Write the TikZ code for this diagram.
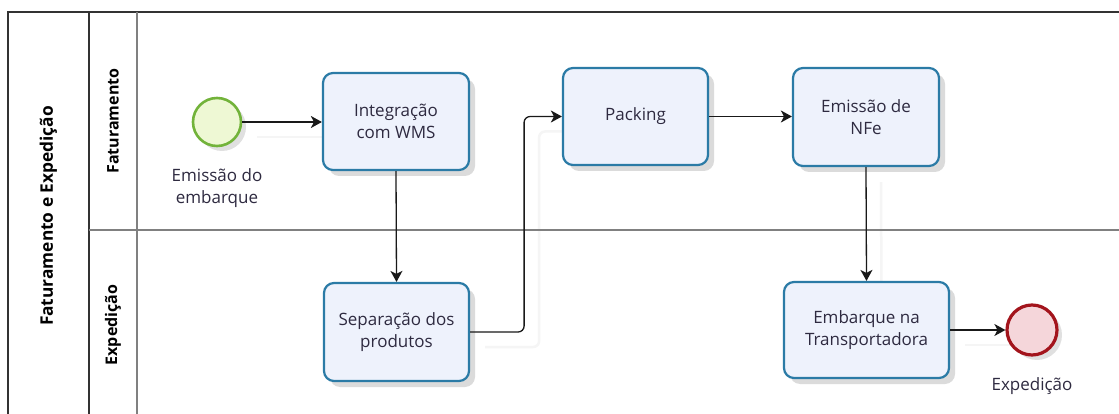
\documentclass[tikz,border=0pt]{standalone}
\usepackage{fontspec}
\setmainfont{Open Sans}
\usetikzlibrary{arrows.meta,shadows,calc}
\definecolor{taskline}{HTML}{2B7BA6}
\definecolor{taskfill}{HTML}{EEF2FC}
\definecolor{startline}{HTML}{72B33A}
\definecolor{startfill}{HTML}{EEF8D4}
\definecolor{endline}{HTML}{A3141C}
\definecolor{endfill}{HTML}{F5D6DA}
\definecolor{txt}{HTML}{2E2A40}
\pgfdeclarelayer{bg}
\pgfdeclarelayer{shadowlayer}
\pgfsetlayers{bg,shadowlayer,main}
\tikzset{
  task/.style={rectangle, rounded corners=10pt, draw=taskline, line width=2.2pt,
    fill=taskfill, minimum width=146pt, minimum height=97pt, align=center,
    font=\fontsize{17}{22}\selectfont, text=txt,
    drop shadow={shadow xshift=6pt, shadow yshift=-6pt, opacity=0.14, fill=black}},
  startev/.style={circle, draw=startline, line width=2.6pt, fill=startfill,
    minimum size=48pt, inner sep=0pt,
    drop shadow={shadow xshift=5pt, shadow yshift=-5pt, opacity=0.12, fill=black}},
  endev/.style={circle, draw=endline, line width=3.2pt, fill=endfill,
    minimum size=50pt, inner sep=0pt,
    drop shadow={shadow xshift=5pt, shadow yshift=-5pt, opacity=0.12, fill=black}},
  evlabel/.style={align=center, font=\fontsize{17}{22}\selectfont, text=txt},
  flow/.style={draw=black!90, line width=1.3pt, -{Stealth[length=11pt,width=12pt,inset=3pt]}},
  flowshadow/.style={draw=black!4, line width=2.5pt},
  hdr/.style={font=\bfseries\fontsize{16}{18}\selectfont, text=black, rotate=90},
  frameline/.style={draw=black!80, line width=1.5pt},
  laneline/.style={draw=black!50, line width=1.3pt},
}
\begin{document}
\begin{tikzpicture}[x=1pt,y=-1pt]
\useasboundingbox (0,0) rectangle (1119,414);
\begin{pgfonlayer}{bg}
\fill[white] (0,0) rectangle (1119,414);
\end{pgfonlayer}
\begin{scope}
\clip (0,0) rectangle (1119,414);
% pool frame
\draw[frameline] (1130,12) -- (8,12) -- (8,430);
\draw[frameline] (89,12) -- (89,430);
\draw[laneline] (137,12) -- (137,430);
\draw[laneline] (89,230) -- (1130,230);
\end{scope}
% headers
\node[hdr, font=\bfseries\fontsize{17.3}{20}\selectfont] (pool) at (48.5,216) {Faturamento e Expedição};
\node[hdr] (lane1) at (113,121) {Faturamento};
\node[hdr] (lane2) at (113,325) {Expedição};
% nodes
\node[startev] (start) at (217,122) {};
\node[evlabel] (startlbl) at (217,188) {Emissão do\\embarque};
\node[task] (int) at (396,121.5) {Integração\\com WMS};
\node[task, minimum width=145pt, minimum height=98pt] (sep) at (396.5,332) {Separação dos\\produtos};
\node[task, minimum width=145pt] (pack) at (635.5,116.5) {Packing};
\node[task, minimum height=98pt] (nfe) at (866,117) {Emissão de\\NFe};
\node[task, minimum width=165pt, minimum height=96pt] (emb) at (866.5,330) {Embarque na\\Transportadora};
\node[endev] (end) at (1032,330) {};
\node[evlabel] (endlbl) at (1032,386) {Expedição};
% connector shadows
\begin{pgfonlayer}{shadowlayer}
\begin{scope}[transform canvas={shift={(15pt,-15pt)}}]
\draw[flowshadow] (start.east) -- (start.east -| int.west);
\draw[flowshadow, rounded corners=6pt] (sep.east) -- ++(54,0) |- (pack.west);
\draw[flowshadow] (nfe.south) -- (emb.north);
\draw[flowshadow] (emb.east) -- (end.west);
\end{scope}
\end{pgfonlayer}
% connectors
\draw[flow] (start.east) -- (start.east -| int.west);
\draw[flow] (int.south) -- (sep.north);
\draw[flow, rounded corners=6pt] (sep.east) -- ++(54,0) |- (pack.west);
\draw[flow] (pack.east) -- (pack.east -| nfe.west);
\draw[flow] (nfe.south) -- (emb.north);
\draw[flow] (emb.east) -- (end.west);
\end{tikzpicture}
\end{document}
